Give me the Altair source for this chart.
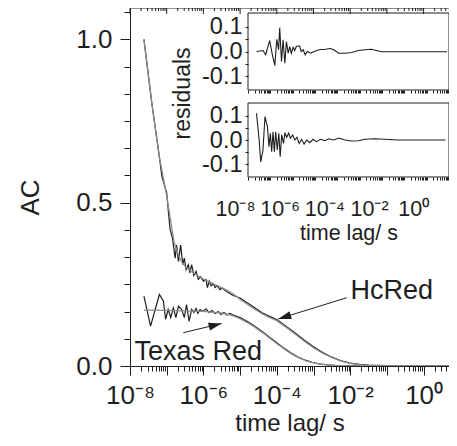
import altair as alt
import pandas as pd

# ---------------- data ----------------
# HcRed: measured autocorrelation (log10 of lag time / s, AC)
hc_data_logt = [-7.62, -7.40, -7.20, -7.13, -7.00, -6.91, -6.84, -6.77, -6.73, -6.68,
                -6.62, -6.56, -6.52, -6.47, -6.41, -6.37, -6.32, -6.26, -6.20, -6.14,
                -6.07, -6.00, -5.93, -5.89, -5.84, -5.79, -5.73, -5.68, -5.62, -5.55,
                -5.49, -5.37, -5.19, -5.00, -4.80, -4.60, -4.40, -4.20, -4.00, -3.75,
                -3.50, -3.25, -3.00, -2.75, -2.50, -2.25, -2.00, -1.75, -1.50, -1.00,
                -0.50, 0.00, 0.50, 0.90]
hc_data_ac = [1.00, 0.80, 0.64, 0.58, 0.53, 0.42, 0.39, 0.33, 0.37, 0.32,
              0.37, 0.31, 0.33, 0.295, 0.31, 0.285, 0.31, 0.277, 0.29, 0.265,
              0.273, 0.26, 0.265, 0.24, 0.26, 0.246, 0.252, 0.24, 0.246, 0.234,
              0.239, 0.228, 0.216, 0.208, 0.193, 0.178, 0.163, 0.152, 0.142, 0.122,
              0.101, 0.079, 0.059, 0.041, 0.027, 0.016, 0.009, 0.005, 0.003, 0.001,
              0.0, 0.0, 0.0, 0.0]
# HcRed: fit
hc_fit_logt = [-7.62, -7.40, -7.20, -7.00, -6.90, -6.80, -6.70, -6.60, -6.50, -6.30,
               -6.00, -5.70, -5.50, -5.20, -5.00, -4.80, -4.60, -4.40, -4.20, -4.00,
               -3.75, -3.50, -3.25, -3.00, -2.75, -2.50, -2.25, -2.00, -1.75, -1.50,
               -1.00, -0.50, 0.00, 0.50, 0.90]
hc_fit_ac = [1.00, 0.80, 0.64, 0.52, 0.45, 0.38, 0.345, 0.32, 0.305, 0.287,
             0.266, 0.25, 0.24, 0.222, 0.204, 0.189, 0.174, 0.16, 0.149, 0.139,
             0.119, 0.098, 0.076, 0.056, 0.039, 0.026, 0.015, 0.008, 0.004, 0.002,
             0.001, 0.0, 0.0, 0.0, 0.0]
# Texas Red: measured autocorrelation
tr_data_logt = [-7.62, -7.44, -7.20, -7.09, -7.03, -6.96, -6.89, -6.82, -6.75, -6.68,
                -6.59, -6.52, -6.46, -6.39, -6.32, -6.26, -6.20, -6.15, -6.09, -6.01,
                -5.93, -5.85, -5.77, -5.68, -5.60, -5.52, -5.44, -5.36, -5.28, -5.20,
                -5.00, -4.80, -4.60, -4.40, -4.20, -4.00, -3.80, -3.60, -3.40, -3.20,
                -3.00, -2.80, -2.60, -2.40, -2.20, -2.00, -1.50, -1.00, 0.00, 0.90]
tr_data_ac = [0.214, 0.122, 0.219, 0.199, 0.143, 0.173, 0.148, 0.178, 0.148, 0.183,
              0.173, 0.148, 0.188, 0.137, 0.173, 0.164, 0.176, 0.161, 0.173, 0.167,
              0.175, 0.164, 0.170, 0.161, 0.167, 0.158, 0.164, 0.156, 0.161, 0.157,
              0.148, 0.136, 0.122, 0.106, 0.088, 0.071, 0.054, 0.039, 0.026, 0.017,
              0.010, 0.0058, 0.0032, 0.0016, 0.0008, 0.0003, 0.0, 0.0, 0.0, 0.0]
# Texas Red: fit
tr_fit_logt = [-7.62, -7.00, -6.50, -6.00, -5.50, -5.20, -5.00, -4.80, -4.60, -4.40,
               -4.20, -4.00, -3.80, -3.60, -3.40, -3.20, -3.00, -2.80, -2.60, -2.40,
               -2.20, -2.00, -1.50, -1.00, 0.00, 0.90]
tr_fit_ac = [0.171, 0.170, 0.169, 0.167, 0.162, 0.154, 0.145, 0.133, 0.119, 0.103,
             0.086, 0.069, 0.052, 0.037, 0.025, 0.016, 0.0095, 0.0055, 0.003, 0.0015,
             0.0007, 0.0003, 0.0, 0.0, 0.0, 0.0]

# residuals, upper inset panel
res_top_logt = [-7.62, -7.33, -7.21, -7.03, -6.91, -6.80, -6.71, -6.63, -6.58, -6.50,
                -6.43, -6.35, -6.28, -6.20, -6.13, -6.06, -5.98, -5.91, -5.84, -5.69,
                -5.62, -5.53, -5.44, -5.34, -5.19, -5.04, -4.82, -4.53, -4.31, -4.16,
                -3.94, -3.65, -3.36, -3.06, -2.76, -2.47, -2.25, -2.03, -1.30, 0.17, 0.91]
res_top = [0.0, 0.004, -0.013, 0.044, -0.013, -0.056, 0.049, 0.007, 0.095, -0.04,
           0.047, -0.047, 0.04, -0.007, 0.02, -0.007, 0.017, 0.004, 0.02, 0.023,
           0.0, 0.007, -0.013, 0.0, -0.007, 0.0, 0.007, 0.009, 0.012, 0.007,
           -0.007, -0.007, -0.004, 0.004, 0.007, 0.009, 0.004, -0.001, -0.001, -0.001, -0.001]
# residuals, lower inset panel
res_bot_logt = [-7.62, -7.50, -7.43, -7.33, -7.24, -7.13, -7.06, -7.00, -6.94, -6.88,
                -6.82, -6.76, -6.69, -6.62, -6.56, -6.49, -6.41, -6.35, -6.27, -6.18,
                -6.10, -6.00, -5.90, -5.81, -5.71, -5.60, -5.49, -5.37, -5.23, -5.09,
                -4.94, -4.75, -4.56, -4.38, -4.16, -3.94, -3.65, -3.36, -3.06, -2.76,
                -2.32, -1.88, -1.30, -0.56, 0.17, 0.84]
res_bot = [0.11, 0.0, -0.09, -0.041, 0.096, 0.055, -0.028, 0.028, -0.048, 0.034,
           -0.048, 0.034, -0.041, 0.028, -0.069, 0.021, -0.014, 0.03, 0.011, 0.028,
           0.007, 0.021, 0.0, 0.011, -0.014, 0.003, -0.017, 0.0, -0.011, 0.003,
           -0.007, 0.003, -0.003, 0.005, 0.0, 0.008, 0.0, -0.004, -0.003, 0.003,
           0.005, 0.003, 0.0, 0.0, 0.0, 0.0]

# annotations
label_text = ["HcRed", "Texas Red"]
label_logt = [-0.869, -6.14]
label_ac = [0.204, 0.0174]
arrow_from_logt = [-2.095, -6.548]
arrow_from_ac = [0.209, 0.102]
arrow_to_logt = [-3.96, -5.504]
arrow_to_ac = [0.144, 0.130]
arrow_angle = [253, 76]

# axis ticks
decade_exps = list(range(-8, 2))
minor_mults = [2, 3, 4, 5, 6, 7, 8, 9]
y_major = [0.0, 0.5, 1.0]
y_minor_twelfths = [1, 2, 3, 4, 5, 7, 8, 9, 10, 11, 13]
res_ticks = [-0.1, -0.05, 0.0, 0.05, 0.1]

# ---------------- layout / style ----------------
W, H = 319, 358
X_MAIN = [1e-8, 10 ** 0.692]
Y_MAIN = [0.0, 1.096]
X_INSET = [1e-8, 10.0]
INSET_X_RANGE = [118, 319]
R_TOP_DOMAIN, R_TOP_RANGE = [-0.155, 0.155], [82, 5]
R_BOT_DOMAIN, R_BOT_RANGE = [-0.152, 0.152], [169, 95]
FONT = "Liberation Sans"
INK = "#1e1e1e"
FIT = "#8c8c8c"
ARROW_PATH = "M0,0L0.5,1.6L-0.5,1.6Z"


def series(logt, vals):
    return pd.DataFrame({"t": [10.0 ** v for v in logt], "v": vals})


main_decades = [10.0 ** e for e in decade_exps if 10.0 ** e <= X_MAIN[1]]
main_minors = [m * 10.0 ** e for e in decade_exps for m in minor_mults if m * 10.0 ** e <= X_MAIN[1]]
inset_ticks = [m * 10.0 ** e for e in decade_exps for m in [1] + minor_mults if m * 10.0 ** e <= X_INSET[1] * 1.0001]
y_minor = [k / 12 for k in y_minor_twelfths]

E = "round(log(datum.value)/LN10)"
IS_DEC = f"abs(log(datum.value)/LN10 - {E}) < 0.01"
SUP = "'\u2070\u00b9\u00b2\u00b3\u2074\u2075\u2076\u2077\u2078\u2079'"
pow_label = (f"({IS_DEC} && {E} % 2 == 0) ? '10' + ({E} < 0 ? '\u207b' : '') + "
             f"substring({SUP}, abs({E}), abs({E}) + 1) : ''")
res_label = ("abs(datum.value*10 - round(datum.value*10)) < 0.01 ? "
             "replace(format(datum.value, '.1f'), '\u2212', '-') : ''")

xs = alt.Scale(type="log", domain=X_MAIN, nice=False)
ys = alt.Scale(domain=Y_MAIN, nice=False, zero=False)
xi = alt.Scale(type="log", domain=X_INSET, range=INSET_X_RANGE, nice=False)
yt = alt.Scale(domain=R_TOP_DOMAIN, range=R_TOP_RANGE, nice=False, zero=False)
yb = alt.Scale(domain=R_BOT_DOMAIN, range=R_BOT_RANGE, nice=False, zero=False)

main_x_axis = alt.Axis(orient="bottom", values=main_decades, labelExpr=pow_label, tickSize=9,
                       labelPadding=7, labelFontSize=26, labelFlush=False, labelOverlap=False,
                       title="time lag/ s", titleFontSize=24, titlePadding=3)
main_y_axis = alt.Axis(orient="left", values=y_major, format=".1f", tickSize=10, labelPadding=8,
                       labelFontSize=26, title="AC", titleFontSize=26, titlePadding=32, titleY=189)
minor_x_axis = alt.Axis(orient="bottom", values=main_minors, tickSize=5,
                        labels=False, domain=False, title=None)
minor_y_axis = alt.Axis(orient="left", values=y_minor, tickSize=6,
                        labels=False, domain=False, title=None)

MX = lambda f: alt.X(f, scale=xs, axis=main_x_axis)
MY = lambda f: alt.Y(f, scale=ys, axis=main_y_axis)


def line(logt, vals, color, width):
    return alt.Chart(series(logt, vals)).mark_line(color=color, strokeWidth=width, clip=True).encode(
        x=MX("t:Q"), y=MY("v:Q"))


arrows = pd.DataFrame({
    "t0": [10.0 ** v for v in arrow_from_logt], "a0": arrow_from_ac,
    "t1": [10.0 ** v for v in arrow_to_logt], "a1": arrow_to_ac, "ang": arrow_angle,
})
labels = pd.DataFrame({"t": [10.0 ** v for v in label_logt], "v": label_ac, "txt": label_text})

main = alt.layer(
    line(hc_data_logt, hc_data_ac, INK, 1.2),
    line(tr_data_logt, tr_data_ac, INK, 1.2),
    line(hc_fit_logt, hc_fit_ac, FIT, 1.3),
    line(tr_fit_logt, tr_fit_ac, FIT, 1.3),
    alt.Chart(pd.DataFrame({"v": [Y_MAIN[1]]})).mark_rule(color=INK, strokeWidth=1.2).encode(
        y=MY("v:Q")),
    alt.Chart(arrows).mark_rule(color=INK, strokeWidth=1).encode(
        x=MX("t0:Q"), x2="t1", y=MY("a0:Q"), y2="a1"),
    alt.Chart(arrows).mark_point(shape=ARROW_PATH, filled=True, size=264, color=INK, opacity=1).encode(
        x=MX("t1:Q"), y=MY("a1:Q"), angle=alt.Angle("ang:Q", scale=None)),
    alt.Chart(labels).mark_text(font=FONT, fontSize=27, align="center", baseline="alphabetic",
                                color=INK).encode(
        x=MX("t:Q"), y=MY("v:Q"), text="txt:N"),
)

minor = alt.layer(
    alt.Chart(pd.DataFrame({"t": main_minors})).mark_rule(color=INK, strokeWidth=1).encode(
        x=alt.X("t:Q", scale=xs, axis=minor_x_axis), y=alt.value(0), y2=alt.value(3)),
    alt.Chart(pd.DataFrame({"t": main_decades})).mark_rule(color=INK, strokeWidth=1).encode(
        x=alt.X("t:Q", scale=xs, axis=minor_x_axis), y=alt.value(0), y2=alt.value(6)),
    alt.Chart(pd.DataFrame({"v": y_minor})).mark_rule(opacity=0).encode(
        y=alt.Y("v:Q", scale=ys, axis=minor_y_axis)),
)


def inset(vals_logt, vals, yscale, ydom, bottom_px, lower):
    frame = pd.DataFrame({"t0": [X_INSET[0]], "t1": [X_INSET[1]], "r0": [ydom[0]], "r1": [ydom[1]]})
    if lower:
        xaxis = alt.Axis(orient="bottom", offset=bottom_px - H, values=inset_ticks, tickSize=3,
                         labelExpr=pow_label, labelFontSize=21.5, labelPadding=18, labelOffset=-13,
                         labelFlush=False, labelOverlap=False, domain=False,
                         title="time lag/ s", titleFontSize=21.5, titlePadding=3)
        yaxis = alt.Axis(orient="left", offset=-INSET_X_RANGE[0], values=res_ticks, tickSize=3,
                         labelExpr=res_label, labelFontSize=23.5, labelPadding=3, labelOverlap=False,
                         domain=False, title=None)
    else:
        xaxis = alt.Axis(orient="bottom", offset=bottom_px - H, values=inset_ticks, tickSize=3,
                         labels=False, domain=False, title=None)
        yaxis = alt.Axis(orient="left", offset=-INSET_X_RANGE[0], values=res_ticks, tickSize=3,
                         labelExpr=res_label, labelFontSize=23.5, labelPadding=3, labelOverlap=False,
                         domain=False, title="residuals", titleFontSize=23, titlePadding=7,
                         titleY=85)
    return alt.layer(
        alt.Chart(frame).mark_rect(fillOpacity=0, stroke=INK, strokeWidth=1).encode(
            x=alt.X("t0:Q", scale=xi, axis=xaxis), x2="t1",
            y=alt.Y("r0:Q", scale=yscale, axis=yaxis), y2="r1"),
        alt.Chart(series(vals_logt, vals)).mark_line(color=INK, strokeWidth=1.1).encode(
            x=alt.X("t:Q", scale=xi, axis=xaxis),
            y=alt.Y("v:Q", scale=yscale, axis=yaxis)),
    )


inset_top = inset(res_top_logt, res_top, yt, R_TOP_DOMAIN, R_TOP_RANGE[0], False)
inset_bot = inset(res_bot_logt, res_bot, yb, R_BOT_DOMAIN, R_BOT_RANGE[0], True)

chart = alt.layer(main, minor, inset_top, inset_bot).resolve_scale(
    x="independent", y="independent"
).properties(
    width=W, height=H,
    autosize=alt.AutoSizeParams(type="none"),
    padding={"left": 122, "top": 0, "right": 0, "bottom": 71},
).configure_view(stroke=None).configure_axis(
    grid=False, labelFont=FONT, titleFont=FONT, labelColor=INK, titleColor=INK,
    domainColor=INK, tickColor=INK, titleFontWeight="normal", domainWidth=1, tickWidth=1,
)

chart.save("out.html", embed_options={"renderer": "svg", "actions": False})
